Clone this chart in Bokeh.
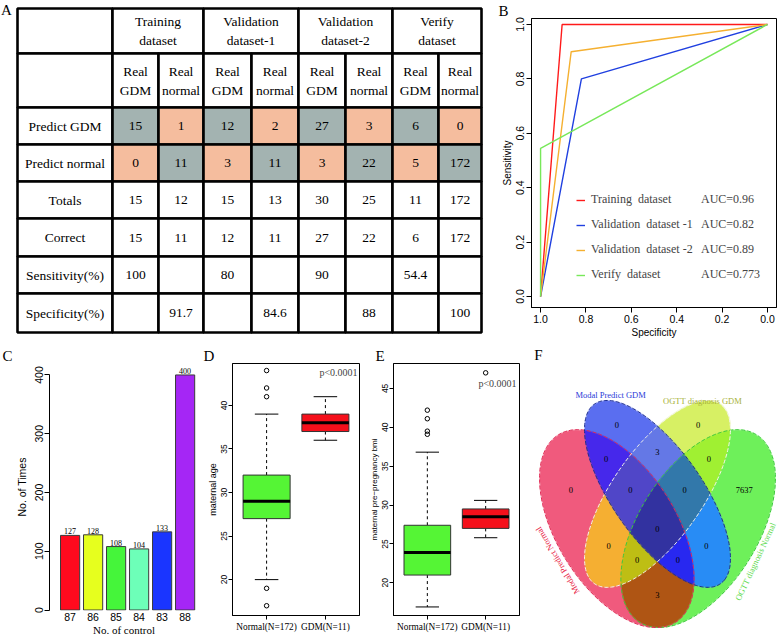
import numpy as np
from bokeh.plotting import figure
from bokeh.layouts import row, column
from bokeh.models import Range1d, FixedTicker, PrintfTickFormatter, Label, Legend, LegendItem, Title
from bokeh.core.properties import value
from bokeh.embed import file_html
from bokeh.resources import INLINE

SERIF = "Liberation Serif"
SANS = "Liberation Sans"

# ---------------- Panel A : confusion table ----------------
dataset_names = ["Training\ndataset", "Validation\ndataset-1", "Validation\ndataset-2", "Verify\ndataset"]
class_names = ["Real\nGDM", "Real\nnormal"]
row_names = ["Predict GDM", "Predict normal", "Totals", "Correct", "Sensitivity(%)", "Specificity(%)"]
predict_gdm = ["15", "1", "12", "2", "27", "3", "6", "0"]
predict_normal = ["0", "11", "3", "11", "3", "22", "5", "172"]
totals = ["15", "12", "15", "13", "30", "25", "11", "172"]
correct = ["15", "11", "12", "11", "27", "22", "6", "172"]
sensitivity = ["100", "", "80", "", "90", "", "54.4", ""]
specificity = ["", "91.7", "", "84.6", "", "88", "", "100"]

# ---------------- Panel B : ROC ----------------
roc_names = ["Training  dataset", "Validation  dataset -1", "Validation  dataset -2", "Verify  dataset"]
roc_auc = ["AUC=0.96", "AUC=0.82", "AUC=0.89", "AUC=0.773"]
roc_spec = [[1.0, 0.905, 0.0], [1.0, 0.82, 0.0], [1.0, 0.865, 0.0], [1.0, 1.0, 0.0]]
roc_sens = [[0.0, 1.0, 1.0], [0.0, 0.8, 1.0], [0.0, 0.9, 1.0], [0.0, 0.545, 1.0]]
roc_colors = ["#ff1a1a", "#2040e0", "#f5b030", "#78e85a"]

# ---------------- Panel C : bar chart ----------------
control_labels = ["87", "86", "85", "84", "83", "88"]
times = [127, 128, 108, 104, 133, 400]
bar_colors = ["#ff0a1e", "#e6ff1e", "#45f53a", "#6dffb8", "#1a35ff", "#a526f5"]

# ---------------- Panels D/E : boxplots ----------------
groups = ["Normal(N=172)", "GDM(N=11)"]
# [lower whisker, Q1, median, Q3, upper whisker]
age_normal = [20, 27, 29, 32, 39]
age_gdm = [36, 37, 38, 39, 41]
age_out_normal = [44, 42, 41, 19, 17]
age_out_gdm = []
bmi_normal = [16.9, 21.0, 23.9, 27.4, 36.8]
bmi_gdm = [25.8, 27.0, 28.5, 29.5, 30.6]
bmi_out_normal = [42.2, 41.1, 39.5, 39.1]
bmi_out_gdm = [47.0]
box_colors = ["#55f535", "#f5101b"]

# ---------------- Panel F : Venn ----------------
venn_sets = ["Modal Predict Normal", "Modal Predict GDM", "OGTT diagnosis GDM", "OGTT diagnosis Normal"]
venn_counts = [0, 3, 0, 0, 0, 0, 0, 0, 0, 0, 0, 3, 0, 0, 7637]


def base_fig(**kw):
    return figure(output_backend="svg", toolbar_location=None, title=None, **kw)


def style_axis(ax, font, size, tick_out=4):
    ax.major_label_text_font = font
    ax.major_label_text_font_size = size
    ax.major_label_text_color = "black"
    ax.major_tick_out = tick_out
    ax.major_tick_in = 0
    ax.minor_tick_out = 0
    ax.minor_tick_in = 0
    ax.axis_line_color = "black"
    ax.major_tick_line_color = "black"
    ax.axis_label_text_font = SANS
    ax.axis_label_text_font_style = "normal"
    ax.axis_label_text_color = "black"


def letter(p, text, offset):
    p.add_layout(Title(text=text, align="left", offset=offset, standoff=0,
                       text_font=SERIF, text_font_size="15px", text_font_style="normal",
                       text_color="black"), "above")


# ===== A =====
pA = base_fig(width=490, height=345, x_range=Range1d(0, 490), y_range=Range1d(345, 0),
              x_axis_location=None, y_axis_location=None, min_border=0)
pA.grid.visible = False
pA.outline_line_color = None
col_edges = [17, 112, 158, 203, 251, 298, 345, 392, 438, 481]
row_edges = [8, 53, 107, 144, 181, 218, 256, 293, 332]
GRAY, ORANGE = "#a3b3b1", "#f5bd9e"
L, R, T, B, FILL = [], [], [], [], []
tx, ty, tt = [], [], []


def cell(c0, c1, r0, fill, label):
    l, r = col_edges[c0], col_edges[c1]
    t, b = row_edges[r0], row_edges[r0 + 1]
    L.append(l); R.append(r); T.append(t); B.append(b); FILL.append(fill)
    lines = label.split("\n")
    n = len(lines)
    for k, ln in enumerate(lines):
        tx.append((l + r) / 2)
        ty.append((t + b) / 2 + (k - (n - 1) / 2) * 19)
        tt.append(ln)


cell(0, 1, 0, "white", "")
for k, nm in enumerate(dataset_names):
    cell(1 + 2 * k, 3 + 2 * k, 0, "white", nm)
cell(0, 1, 1, "white", "")
for j in range(8):
    cell(1 + j, 2 + j, 1, "white", class_names[j % 2])
body = [predict_gdm, predict_normal, totals, correct, sensitivity, specificity]
for i, vals in enumerate(body):
    cell(0, 1, 2 + i, "white", row_names[i])
    for j, v in enumerate(vals):
        if i == 0:
            f = GRAY if j % 2 == 0 else ORANGE
        elif i == 1:
            f = ORANGE if j % 2 == 0 else GRAY
        else:
            f = "white"
        cell(1 + j, 2 + j, 2 + i, f, v)
pA.quad(left=L, right=R, top=T, bottom=B, fill_color=FILL, line_color="black", line_width=2.6)
pA.text(x=tx, y=ty, text=tt, text_font=value(SERIF), text_font_size="13.5px",
        text_align="center", text_baseline="middle", text_color="black")
pA.text(x=[6], y=[9], text=["A"], text_font=value(SERIF), text_font_size="15px",
        text_align="center", text_baseline="middle", text_color="black")

# ===== B =====
pB = base_fig(width=288, height=345, x_range=Range1d(1.04, -0.04), y_range=Range1d(-0.0403, 1.022),
              min_border_left=41, min_border_right=2, min_border_top=17, min_border_bottom=38)
pB.grid.visible = False
pB.outline_line_color = "black"
rl = []
for xs, ys, c in zip(roc_spec, roc_sens, roc_colors):
    rl.append(pB.line(xs, ys, line_color=c, line_width=1.4))
for ax in (pB.xaxis[0], pB.yaxis[0]):
    ax.ticker = FixedTicker(ticks=[0.0, 0.2, 0.4, 0.6, 0.8, 1.0])
    ax.formatter = PrintfTickFormatter(format="%.1f")
    style_axis(ax, SANS, "10.5px", 5)
    ax.major_label_standoff = 2
    ax.axis_label_text_font_size = "10px"
    ax.axis_label_standoff = 1
pB.yaxis.major_label_orientation = "vertical"
pB.xaxis.axis_label = "Specificity"
pB.yaxis.axis_label = "Sensitivity"
leg1 = Legend(items=[LegendItem(label=n, renderers=[r]) for n, r in zip(roc_names, rl)],
              location=(45, 25), border_line_color=None, background_fill_alpha=0,
              label_text_font=SERIF, label_text_font_size="12px", glyph_width=9,
              glyph_height=14, label_height=14, spacing=10, padding=0, margin=0, label_standoff=6)
leg2 = Legend(items=[LegendItem(label=a, renderers=[r]) for a, r in zip(roc_auc, rl)],
              location=(170, 25), border_line_color=None, background_fill_alpha=0,
              label_text_font=SERIF, label_text_font_size="12px", glyph_width=0,
              glyph_height=14, label_height=14, spacing=10, padding=0, margin=0, label_standoff=0)
pB.add_layout(leg1)
pB.add_layout(leg2)
letter(pB, "B", -33)

# ===== C =====
pos = list(range(1, len(times) + 1))
pC = base_fig(width=200, height=293, x_range=Range1d(0.104, 6.582), y_range=Range1d(-0.8, 419.5),
              min_border_left=49, min_border_right=2, min_border_top=17, min_border_bottom=27)
pC.grid.visible = False
pC.outline_line_color = None
pC.vbar(x=pos, top=times, bottom=0, width=0.833, fill_color=bar_colors, line_color="#3a3a3a", line_width=1)
pC.text(x=pos, y=times, text=[str(t) for t in times], text_font=value(SERIF), text_font_size="8px",
        text_align="center", text_baseline="bottom", y_offset=-1, text_color="black")
style_axis(pC.yaxis[0], SANS, "10.5px", 5)
pC.yaxis.ticker = FixedTicker(ticks=[0, 100, 200, 300, 400])
pC.yaxis.bounds = (0, 400)
pC.yaxis.major_label_orientation = "vertical"
pC.yaxis.major_label_standoff = 1
pC.yaxis.axis_label = "No. of Times"
pC.yaxis.axis_label_text_font_size = "10.5px"
pC.yaxis.axis_label_standoff = 5
style_axis(pC.xaxis[0], SANS, "10.5px", 0)
pC.xaxis.ticker = FixedTicker(ticks=pos)
pC.xaxis.major_label_overrides = {p_: l_ for p_, l_ in zip(pos, control_labels)}
pC.xaxis.axis_line_color = None
pC.xaxis.major_tick_line_color = None
pC.xaxis.major_label_standoff = 2
pC.xaxis.axis_label = "No. of control"
pC.xaxis.axis_label_text_font = SERIF
pC.xaxis.axis_label_text_font_size = "11px"
pC.xaxis.axis_label_standoff = 0
letter(pC, "C", -47)


def box_panel(width, ml, mr, mt, mb, yr, stats, outs, ylabel, ylabel_size):
    p = base_fig(width=width, height=293, x_range=Range1d(0.42, 2.58), y_range=Range1d(*yr),
                 min_border_left=ml, min_border_right=mr, min_border_top=mt, min_border_bottom=mb)
    p.grid.visible = False
    p.outline_line_color = "black"
    xs = [1, 2]
    lo = [s[0] for s in stats]; q1 = [s[1] for s in stats]; md = [s[2] for s in stats]
    q3 = [s[3] for s in stats]; hi = [s[4] for s in stats]
    p.segment(x0=xs, y0=q3, x1=xs, y1=hi, line_color="black", line_dash="3 3", line_width=1)
    p.segment(x0=xs, y0=q1, x1=xs, y1=lo, line_color="black", line_dash="3 3", line_width=1)
    p.segment(x0=[x - 0.2 for x in xs], y0=hi, x1=[x + 0.2 for x in xs], y1=hi, line_color="black")
    p.segment(x0=[x - 0.2 for x in xs], y0=lo, x1=[x + 0.2 for x in xs], y1=lo, line_color="black")
    p.vbar(x=xs, bottom=q1, top=q3, width=0.8, fill_color=box_colors, line_color="#333333", line_width=1)
    p.segment(x0=[x - 0.4 for x in xs], y0=md, x1=[x + 0.4 for x in xs], y1=md,
              line_color="black", line_width=3)
    ox, oy = [], []
    for x, o in zip(xs, outs):
        ox += [x] * len(o); oy += list(o)
    p.scatter(ox, oy, marker="circle", size=4.5, fill_color=None, line_color="black", line_width=1)
    style_axis(p.yaxis[0], SANS, "8.5px", 4)
    p.yaxis.ticker = FixedTicker(ticks=[20, 25, 30, 35, 40, 45])
    p.yaxis.major_label_orientation = "vertical"
    p.yaxis.major_label_standoff = 1
    p.yaxis.axis_label = ylabel
    p.yaxis.axis_label_text_font_size = ylabel_size
    p.yaxis.axis_label_standoff = 1
    style_axis(p.xaxis[0], SERIF, "9.3px", 4)
    p.xaxis.ticker = FixedTicker(ticks=xs)
    p.xaxis.major_label_overrides = {1: groups[0], 2: groups[1]}
    p.xaxis.major_label_standoff = 2
    return p


pD = box_panel(166, 32, 7, 17, 23, (15.88, 44.81), [age_normal, age_gdm], [age_out_normal, age_out_gdm],
               "maternal age", "9px")
pD.add_layout(Label(x=106, y=243, x_units="screen", y_units="screen", text="p<0.0001",
                    text_font=SERIF, text_font_size="10px", text_align="center", text_baseline="middle"))
letter(pD, "D", -29)

pE = box_panel(164, 25, 11, 17, 23, (15.8, 48.2), [bmi_normal, bmi_gdm], [bmi_out_normal, bmi_out_gdm],
               "maternal pre\u2212pregnancy bmi", "8px")
pE.add_layout(Label(x=104, y=232, x_units="screen", y_units="screen", text="p<0.0001",
                    text_font=SERIF, text_font_size="10px", text_align="center", text_baseline="middle"))
letter(pE, "E", -18)

# ===== F =====
FX0, FX1, FY0, FY1 = 0.0314, 0.9465, 0.1533, 0.9977
FW, FH = 248, 293
pF = base_fig(width=FW, height=FH, x_range=Range1d(FX0, FX1), y_range=Range1d(FY0, FY1),
              x_axis_location=None, y_axis_location=None, min_border=0)
pF.grid.visible = False
pF.outline_line_color = None

# geometry of a 4-set Venn layout: (cx, cy, a, b, angle)
ell_keys = ["pink", "blue", "yellow", "green"]
ell = {
    "pink": (0.35, 0.47, 0.35, 0.20, -45),
    "blue": (0.50, 0.57, 0.35, 0.15, -45),
    "yellow": (0.50, 0.57, 0.35, 0.15, 45),
    "green": (0.65, 0.47, 0.35, 0.20, 45),
}
# fill colour of every overlap region, keyed by membership bits (pink=1, blue=2, yellow=4, green=8)
region_rgb = {
    0: (255, 255, 255), 1: (240, 90, 125), 2: (90, 110, 240), 4: (215, 240, 100), 8: (110, 240, 90),
    3: (70, 40, 235), 6: (100, 120, 230), 12: (160, 240, 50), 7: (80, 70, 200), 14: (50, 120, 170),
    15: (50, 50, 160), 5: (245, 175, 50), 10: (40, 140, 245), 13: (190, 190, 20), 11: (40, 40, 240),
    9: (175, 85, 20),
}
lut = np.zeros((16, 3), dtype=float)
for k_, c_ in region_rgb.items():
    lut[k_] = c_

SS = 3
gx = FX0 + (np.arange(FW * SS) + 0.5) * (FX1 - FX0) / (FW * SS)
gy = FY0 + (np.arange(FH * SS) + 0.5) * (FY1 - FY0) / (FH * SS)
GX, GY = np.meshgrid(gx, gy)
code = np.zeros(GX.shape, dtype=int)
for bit, key in zip([1, 2, 4, 8], ell_keys):
    cx, cy, a, b, deg = ell[key]
    th = np.radians(deg)
    dx, dy = GX - cx, GY - cy
    u = dx * np.cos(th) + dy * np.sin(th)
    v = -dx * np.sin(th) + dy * np.cos(th)
    code |= bit * (((u / a) ** 2 + (v / b) ** 2) <= 1.0)
rgbf = lut[code].reshape(FH, SS, FW, SS, 3).mean(axis=(1, 3))
img = np.empty((FH, FW, 4), dtype=np.uint8)
img[..., :3] = np.clip(np.round(rgbf), 0, 255).astype(np.uint8)
img[..., 3] = 255
img32 = np.ascontiguousarray(img).view(np.uint32).reshape(FH, FW)
pF.image_rgba(image=[img32], x=FX0, y=FY0, dw=FX1 - FX0, dh=FY1 - FY0)


def ellipse_pts(cx, cy, a, b, deg, n=240):
    t = np.linspace(0, 2 * np.pi, n)
    th = np.radians(deg)
    x = cx + a * np.cos(t) * np.cos(th) - b * np.sin(t) * np.sin(th)
    y = cy + a * np.cos(t) * np.sin(th) + b * np.sin(t) * np.cos(th)
    return x, y


ell_line = {"pink": "#e02a55", "blue": "#1e2e8c", "yellow": "#f4f4ea", "green": "#3cc83c"}
for key in ["green", "pink", "yellow", "blue"]:
    ex, ey = ellipse_pts(*ell[key])
    pF.patch(ex, ey, fill_color=None, line_color=ell_line[key], line_dash="4 2", line_width=1)

vx = [0.35, 0.5, 0.65, 0.31, 0.4, 0.5, 0.6, 0.69, 0.18, 0.32, 0.425, 0.5, 0.575, 0.68, 0.82]
vy = [0.77, 0.69, 0.77, 0.67, 0.58, 0.47, 0.58, 0.67, 0.58, 0.42, 0.38, 0.28, 0.38, 0.42, 0.58]
pF.text(x=vx, y=vy, text=[str(c) for c in venn_counts], text_font=value(SERIF), text_font_size="8.5px",
        text_align="center", text_baseline="middle", text_color="black")
cat_x = [0.131, 0.327, 0.666, 0.8616]
cat_y = [0.378, 0.856, 0.839, 0.3752]
cat_ang = [np.radians(121), 0, 0, np.radians(65)]
cat_col = ["#e8203f", "#2a3ad8", "#a8b23a", "#5ada4a"]
pF.text(x=cat_x, y=cat_y, text=venn_sets, angle=cat_ang, text_color=cat_col, text_font=value(SERIF),
        text_font_size="8.5px", text_align="center", text_baseline="middle")
pF.text(x=[0.061], y=[0.969], text=["F"], text_font=value(SERIF), text_font_size="15px",
        text_align="center", text_baseline="middle", text_color="black")

layout = column(row(column(pA), column(pB)),
                row(column(pC), column(pD), column(pE), column(pF)))
open("out.html", "w").write(file_html(layout, INLINE))
